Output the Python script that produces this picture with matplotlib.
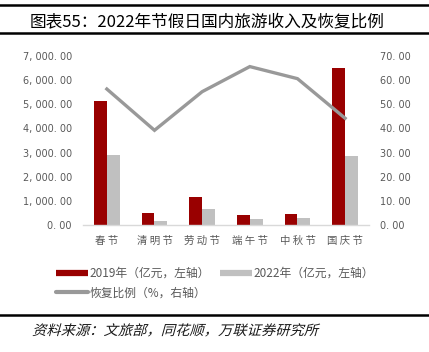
import numpy as np
import matplotlib
matplotlib.use("Agg")
import matplotlib.pyplot as plt
from matplotlib.lines import Line2D
from matplotlib.textpath import TextPath
from matplotlib.font_manager import FontProperties
from matplotlib.patches import PathPatch
from matplotlib.transforms import Affine2D

plt.rcParams['font.family'] = ['Noto Sans CJK SC', 'DejaVu Sans']

# data
holidays = ['春节', '清明节', '劳动节', '端午节', '中秋节', '国庆节']
income_2019 = [5139, 479, 1177, 393, 473, 6497]   # 亿元
income_2022 = [2892, 156, 647, 258, 287, 2872]    # 亿元
recovery = [56.3, 39.2, 55.2, 65.6, 60.6, 44.2]   # %

red = '#990000'
light = '#C0C0C0'
linegray = '#999999'
txt = '#595959'

fig = plt.figure(figsize=(4.29, 3.52), dpi=100)
ax = fig.add_axes([0.1935, 0.361, 0.6665, 0.48])
ax2 = ax.twinx()

x = np.arange(len(holidays))
w = 0.27
ax.bar(x - w / 2, income_2019, width=w, color=red, zorder=2)
ax.bar(x + w / 2, income_2022, width=w, color=light, zorder=2)
ax2.plot(x, recovery, color=linegray, lw=2.4, solid_joinstyle='miter')

ax.set_xlim(-0.5, len(holidays) - 0.5)
ax.set_ylim(0, 7000)
ax2.set_ylim(0, 70)
ax.set_yticks(np.arange(0, 7001, 1000))
ax2.set_yticks(np.arange(0, 71, 10))


def fmt(v):
    return f'{v:,.2f}'.replace(',', ', ').replace('.', '. ')


ax.set_yticklabels([fmt(v) for v in ax.get_yticks()], fontfamily='DejaVu Sans')
ax2.set_yticklabels([fmt(v) for v in ax2.get_yticks()], fontfamily='DejaVu Sans')
ax.set_xticks(x)
ax.set_xticklabels([' '.join(h) for h in holidays])

for a in (ax, ax2):
    for s in a.spines.values():
        s.set_visible(False)
    a.tick_params(length=0, colors=txt, labelsize=7)
ax.tick_params(axis='x', labelsize=7.5, pad=8)
ax.tick_params(axis='y', pad=8)
ax2.tick_params(axis='y', pad=8)
ax.spines['bottom'].set_visible(True)
ax.spines['bottom'].set_color('#D9D9D9')
ax.spines['bottom'].set_linewidth(1.0)

handles = [
    Line2D([], [], color=red, lw=4.5, solid_capstyle='butt'),
    Line2D([], [], color=linegray, lw=3, solid_capstyle='round'),
    Line2D([], [], color=light, lw=4.5, solid_capstyle='butt'),
]
labels = ['2019年（亿元，左轴）', '恢复比例（%，右轴）', '2022年（亿元，左轴）']
fig.legend(handles, labels, ncol=2, loc='upper left', bbox_to_anchor=(0.105, 0.272),
           frameon=False, fontsize=8.5, labelcolor=txt, handlelength=2.7,
           handletextpad=0.2, columnspacing=0.8, labelspacing=0.55)

# title with rules
fig.text(0.483, 1 - 22 / 352, '图表55：2022年节假日国内旅游收入及恢复比例',
         ha='center', va='center', fontsize=12, color='black')
fig.add_artist(Line2D([0, 1], [1 - 5 / 352] * 2, color='black', lw=1.8))
fig.add_artist(Line2D([0, 1], [1 - 33 / 352] * 2, color='black', lw=1.8))
fig.add_artist(Line2D([0, 1], [1 - 315 / 352] * 2, color='black', lw=1.8))

# italic-looking source note (CJK font has no italic, so skew the glyph path)
fp = FontProperties(family='Noto Sans CJK SC', size=10)
tp = TextPath((0, 0), '资料来源：文旅部，同花顺，万联证券研究所', prop=fp)
scale = 100 / 72
tr = Affine2D().skew_deg(15, 0).scale(scale * 1.03, scale).translate(32, 352 - 335)
fig.add_artist(PathPatch(tr.transform_path(tp), color='#1a1a1a', lw=0,
                         transform=None))

fig.savefig('out.png', dpi=100)
